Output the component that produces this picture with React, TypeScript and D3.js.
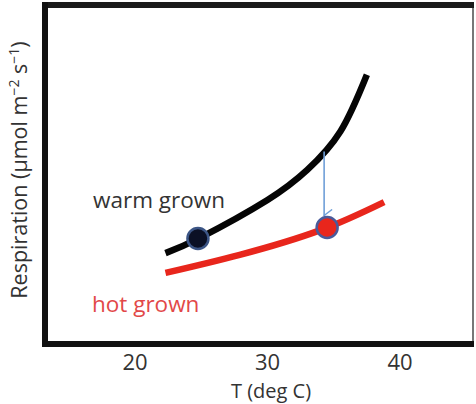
import React from "react";
import * as d3 from "d3";

// Respiration response curves (arbitrary units) vs temperature (deg C)
const warmT = [22.3, 25.0, 30.0, 33.0, 35.5, 37.5];
const warmR = [2.66, 3.14, 4.25, 5.15, 6.3, 8.0];
const hotT = [22.3, 27.9, 34.0, 38.8];
const hotR = [2.07, 2.61, 3.35, 4.19];

// Highlighted points on each curve
const warmPointT = 24.75;
const warmPointR = 3.1;
const hotPointT = 34.5;
const hotPointR = 3.43;
const arrowFromR = 5.7;

const xTicks = [20, 30, 40];
const xLabel = "T (deg C)";
const warmLabel = "warm grown";
const hotLabel = "hot grown";

const W = 476;
const H = 404;
const box = { left: 45, right: 473, top: 5, bottom: 344 };

export default function App() {
  const x = d3.scaleLinear().domain([20, 40]).range([135, 400]);
  const y = d3.scaleLinear().domain([0, 10]).range([342, 8]);

  const line = d3
    .line<[number, number]>()
    .x((d) => x(d[0]))
    .y((d) => y(d[1]))
    .curve(d3.curveNatural);

  const warmPts = warmT.map((t, i) => [t, warmR[i]] as [number, number]);
  const hotPts = hotT.map((t, i) => [t, hotR[i]] as [number, number]);

  const font = "'Open Sans', 'Liberation Sans', sans-serif";
  const ax = x(hotPointT) - 3;
  const ay1 = y(arrowFromR);
  const ay2 = y(hotPointR) - 12;

  return (
    <svg
      width={W}
      height={H}
      style={{ position: "absolute", left: 0, top: 0, background: "#fff" }}
      fontFamily={font}
    >
      <defs>
        <marker
          id="arrowhead"
          viewBox="0 0 12 12"
          refX="6"
          refY="11"
          markerWidth="12"
          markerHeight="12"
          markerUnits="userSpaceOnUse"
          orient="auto-start-reverse"
        >
          <path d="M0,3 L6,11 L12,3" fill="none" stroke="#6f9fd8" strokeWidth="1.4" />
        </marker>
      </defs>

      {/* plot frame */}
      <line x1={box.right} x2={box.right} y1={box.top} y2={box.bottom} stroke="#777" strokeWidth={2} />
      <line x1={box.left} x2={box.right + 1} y1={box.top} y2={box.top} stroke="#1a1a1a" strokeWidth={6} />
      <line x1={box.left} x2={box.right + 1} y1={box.bottom} y2={box.bottom} stroke="#111" strokeWidth={6} />
      <line x1={box.left} x2={box.left} y1={box.top - 3} y2={box.bottom + 3} stroke="#111" strokeWidth={6} />

      {/* curves */}
      <path d={line(hotPts) || ""} fill="none" stroke="#e8261c" strokeWidth={6.5} />
      <path d={line(warmPts) || ""} fill="none" stroke="#050505" strokeWidth={6.5} />

      {/* shift arrow */}
      <line
        x1={ax}
        x2={ax}
        y1={ay1}
        y2={ay2}
        stroke="#6f9fd8"
        strokeWidth={1.6}
        markerEnd="url(#arrowhead)"
      />

      {/* highlighted points */}
      <circle cx={x(warmPointT)} cy={y(warmPointR)} r={10.5} fill="#0b1025" stroke="#3c5585" strokeWidth={2.5} />
      <circle cx={x(hotPointT)} cy={y(hotPointR)} r={10.5} fill="#e8261c" stroke="#4a5a9a" strokeWidth={2.5} />

      {/* curve labels */}
      <text x={93} y={208} fontSize={22.5} fill="#333">{warmLabel}</text>
      <text x={92} y={312} fontSize={22.5} fill="#e24848">{hotLabel}</text>

      {/* x ticks */}
      {xTicks.map((t) => (
        <text key={t} x={x(t)} y={370} fontSize={22} fill="#333" textAnchor="middle">
          {t}
        </text>
      ))}
      <text x={271} y={398} fontSize={20} fill="#333" textAnchor="middle">
        {xLabel}
      </text>

      {/* y label */}
      <text
        transform={`translate(27, 170) rotate(-90)`}
        fontSize={21.5}
        fill="#333"
        textAnchor="middle"
      >
        Respiration (µmol m
        <tspan dy={-8} fontSize={14}>−2</tspan>
        <tspan dy={8}> s</tspan>
        <tspan dy={-8} fontSize={14}>−1</tspan>
        <tspan dy={8}>)</tspan>
      </text>
    </svg>
  );
}
